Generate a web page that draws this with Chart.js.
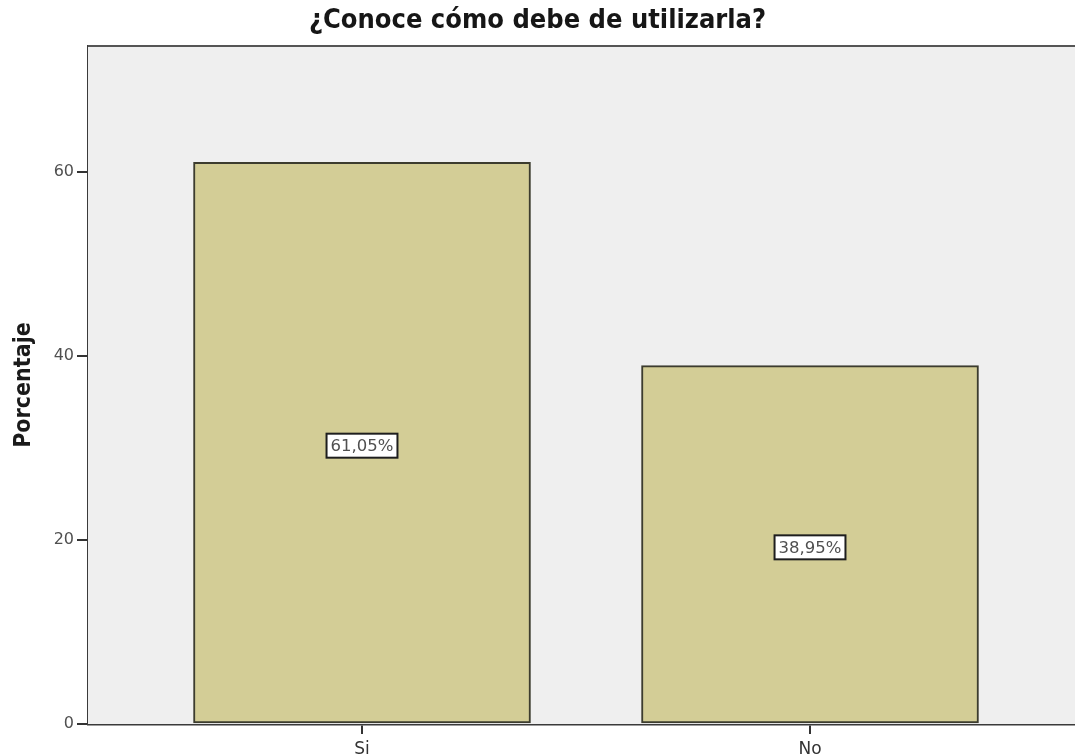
<!DOCTYPE html>
<html>
<head>
<meta charset="utf-8">
<script src="https://cdn.jsdelivr.net/npm/chart.js@4/dist/chart.umd.min.js"></script>
<style>
  html, body { margin: 0; padding: 0; background: #ffffff; overflow: hidden; }
  #wrap { width: 1075px; height: 756px; position: relative; }
</style>
</head>
<body>
<div id="wrap"><canvas id="chart"></canvas></div>
<script>
// Responses and their percentages
const categories = ['Si', 'No'];
const percentages = [61.05, 38.95];
const yTicks = [0, 20, 40, 60];
const chartTitle = '¿Conoce cómo debe de utilizarla?';
const yAxisTitle = 'Porcentaje';

// Bars sit at positions 1, 2 … on a linear axis so the outer margins can be set freely
const points = percentages.map((v, i) => ({ x: i + 1, y: v }));

const fmtPct = v => v.toFixed(2).replace('.', ',') + '%';

// Grey plot background and top frame line
const plotFrame = {
  id: 'plotFrame',
  beforeDatasetsDraw(chart) {
    const { ctx, chartArea: a } = chart;
    ctx.save();
    ctx.fillStyle = '#efefef';
    ctx.fillRect(a.left, a.top, a.right - a.left, a.bottom - a.top);
    ctx.restore();
  },
  afterDraw(chart) {
    const { ctx, chartArea: a } = chart;
    ctx.save();
    ctx.strokeStyle = '#555555';
    ctx.lineWidth = 2;
    ctx.beginPath();
    ctx.moveTo(a.left, a.top);
    ctx.lineTo(a.right, a.top);
    ctx.stroke();
    ctx.restore();
  }
};

// Boxed percentage label at the middle of each bar
const boxedLabels = {
  id: 'boxedLabels',
  afterDatasetsDraw(chart) {
    const { ctx } = chart;
    const meta = chart.getDatasetMeta(0);
    ctx.save();
    ctx.font = '16.5px "DejaVu Sans"';
    ctx.textAlign = 'center';
    ctx.textBaseline = 'middle';
    meta.data.forEach((bar, i) => {
      const text = fmtPct(percentages[i]);
      const cy = (bar.y + bar.base) / 2 + 3;
      const w = ctx.measureText(text).width + 8;
      const h = 24;
      ctx.fillStyle = '#ffffff';
      ctx.fillRect(bar.x - w / 2, cy - h / 2, w, h);
      ctx.strokeStyle = '#1e1e1e';
      ctx.lineWidth = 2;
      ctx.strokeRect(bar.x - w / 2, cy - h / 2, w, h);
      ctx.fillStyle = '#505050';
      ctx.fillText(text, bar.x, cy + 1);
    });
    ctx.restore();
  }
};

new Chart(document.getElementById('chart'), {
  type: 'bar',
  data: {
    datasets: [{
      data: points,
      backgroundColor: '#d3cd96',
      borderColor: '#3c3c2e',
      borderWidth: 2,
      borderSkipped: false,
      barThickness: 337
    }]
  },
  options: {
    responsive: true,
    maintainAspectRatio: false,
    animation: false,
    layout: { padding: { left: 0, right: 0, top: 0, bottom: 0 } },
    plugins: {
      legend: { display: false },
      tooltip: { enabled: false },
      title: {
        display: true,
        text: chartTitle,
        color: '#161616',
        font: { family: '"DejaVu Sans Condensed", "DejaVu Sans"', size: 27, weight: 'bold' },
        padding: { top: 5, bottom: 8.6 }
      }
    },
    scales: {
      x: {
        type: 'linear',
        offset: false,
        min: 0.3884,
        max: 2.5915,
        afterBuildTicks(scale) {
          scale.ticks = categories.map((c, i) => ({ value: i + 1 }));
        },
        afterFit(scale) { scale.height = 32; },
        ticks: {
          callback: v => categories[Math.round(v) - 1] ?? '',
          color: '#333333',
          font: { family: '"DejaVu Sans"', size: 17 },
          padding: 5,
          maxRotation: 0,
          autoSkip: false
        },
        grid: { offset: false, drawOnChartArea: false, drawTicks: true, tickLength: 10, color: '#333333', lineWidth: 2 },
        border: { display: true, color: '#3a3a3a', width: 2.5 }
      },
      y: {
        min: 0,
        max: 73.7,
        afterBuildTicks(scale) {
          scale.ticks = yTicks.map(v => ({ value: v }));
        },
        afterFit(scale) { scale.width = 88; },
        ticks: {
          color: '#505050',
          font: { family: '"DejaVu Sans"', size: 16 },
          padding: 3
        },
        grid: { drawOnChartArea: false, drawTicks: true, tickLength: 11, color: '#333333', lineWidth: 2 },
        border: { display: true, color: '#3a3a3a', width: 2.5 },
        title: {
          display: true,
          text: yAxisTitle,
          color: '#1a1a1a',
          font: { family: '"DejaVu Sans Condensed", "DejaVu Sans"', size: 23, weight: 'bold' },
          padding: { top: 10, bottom: 0 }
        }
      }
    }
  },
  plugins: [plotFrame, boxedLabels]
});
</script>
</body>
</html>
